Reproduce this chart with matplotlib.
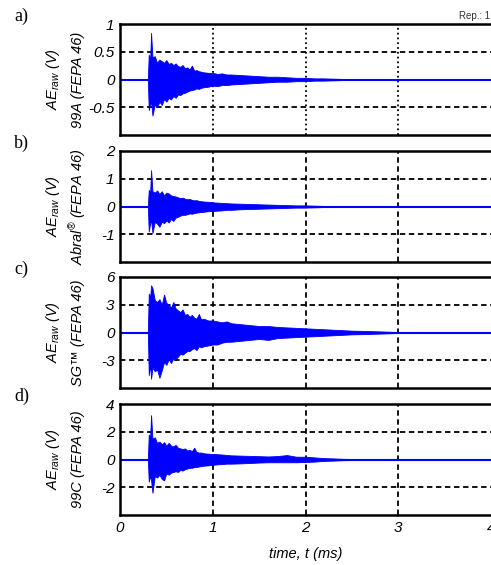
import matplotlib
matplotlib.use('Agg')
import matplotlib.pyplot as plt

plt.rcParams['font.family'] = ['Liberation Sans', 'DejaVu Sans']
plt.rcParams['font.style'] = 'italic'
plt.rcParams['mathtext.fontset'] = 'custom'
plt.rcParams['mathtext.it'] = 'Liberation Sans:italic'
plt.rcParams['mathtext.rm'] = 'Liberation Sans:italic'

# sample times of the signal envelope (ms)
t_ms = [0.30, 0.31, 0.325, 0.335, 0.35, 0.375, 0.40, 0.425, 0.45, 0.475,
        0.50, 0.525, 0.55, 0.575, 0.60, 0.625, 0.65, 0.675, 0.70, 0.725,
        0.75, 0.775, 0.80, 0.825, 0.85, 0.875, 0.90, 0.95, 1.00, 1.05,
        1.10, 1.15, 1.20, 1.30, 1.40, 1.50, 1.60, 1.70, 1.80, 1.90,
        2.00, 2.10, 2.20, 2.30, 2.40, 2.50, 2.60, 2.80, 3.00]

# 99A (FEPA 46)
a_up = [0, 0.45, 0.35, 0.84, 0.40, 0.42, 0.30, 0.36, 0.33, 0.30,
        0.35, 0.28, 0.30, 0.26, 0.29, 0.24, 0.23, 0.26, 0.20, 0.22,
        0.18, 0.25, 0.16, 0.17, 0.15, 0.14, 0.13, 0.12, 0.12, 0.10,
        0.11, 0.09, 0.09, 0.08, 0.07, 0.06, 0.05, 0.05, 0.04, 0.03,
        0.03, 0.02, 0.02, 0.015, 0.01, 0.01, 0.005, 0, 0]
a_lo = [0, -0.55, -0.45, -0.40, -0.65, -0.45, -0.50, -0.40, -0.46, -0.35,
        -0.40, -0.33, -0.36, -0.30, -0.33, -0.27, -0.28, -0.25, -0.24, -0.22,
        -0.20, -0.19, -0.18, -0.16, -0.17, -0.15, -0.14, -0.13, -0.11, -0.12,
        -0.10, -0.10, -0.09, -0.08, -0.07, -0.06, -0.05, -0.04, -0.04, -0.03,
        -0.03, -0.02, -0.02, -0.015, -0.01, -0.01, -0.005, 0, 0]

# Abral (FEPA 46)
b_up = [0, 0.60, 0.50, 1.31, 0.55, 0.50, 0.58, 0.45, 0.55, 0.40,
        0.50, 0.47, 0.40, 0.38, 0.36, 0.33, 0.30, 0.32, 0.28, 0.26,
        0.27, 0.24, 0.22, 0.23, 0.20, 0.19, 0.18, 0.17, 0.15, 0.14,
        0.13, 0.12, 0.11, 0.10, 0.09, 0.08, 0.07, 0.06, 0.05, 0.04,
        0.04, 0.03, 0.02, 0.02, 0.01, 0.01, 0, 0, 0]
b_lo = [0, -0.90, -0.60, -0.50, -0.95, -0.55, -0.62, -0.73, -0.55, -0.60,
        -0.50, -0.58, -0.45, -0.52, -0.40, -0.37, -0.33, -0.30, -0.30, -0.28,
        -0.25, -0.26, -0.24, -0.22, -0.21, -0.20, -0.19, -0.17, -0.16, -0.15,
        -0.14, -0.12, -0.12, -0.10, -0.09, -0.08, -0.07, -0.06, -0.05, -0.04,
        -0.04, -0.03, -0.02, -0.02, -0.01, -0.01, 0, 0, 0]

# SG (FEPA 46)
c_up = [0, 4.2, 3.8, 5.1, 4.8, 3.5, 3.3, 3.6, 3.0, 4.1,
        3.2, 3.0, 2.7, 3.3, 2.6, 2.4, 2.2, 2.5, 1.9, 2.0,
        1.7, 1.9, 1.6, 1.5, 2.0, 1.4, 1.5, 1.3, 1.3, 1.2,
        1.1, 1.2, 1.0, 0.9, 0.8, 0.7, 0.7, 0.6, 0.55, 0.5,
        0.45, 0.4, 0.35, 0.3, 0.25, 0.2, 0.18, 0.12, 0.05]
c_lo = [0, -4.6, -3.5, -5.0, -3.8, -4.2, -4.0, -4.9, -4.1, -3.2,
        -3.5, -2.9, -3.3, -2.8, -2.9, -2.6, -2.3, -2.4, -2.2, -2.0,
        -2.0, -1.8, -1.7, -1.9, -1.5, -1.6, -1.5, -1.4, -1.3, -1.3,
        -1.1, -1.0, -1.0, -0.9, -0.8, -0.7, -0.8, -0.6, -0.55, -0.5,
        -0.45, -0.4, -0.35, -0.3, -0.25, -0.2, -0.18, -0.12, -0.05]

# 99C (FEPA 46)
d_up = [0, 1.8, 1.6, 3.2, 1.5, 1.6, 1.2, 1.3, 1.1, 1.25,
        1.0, 1.2, 1.0, 0.95, 1.05, 0.85, 0.8, 0.75, 0.8, 0.65,
        0.7, 0.6, 0.85, 0.55, 0.5, 0.5, 0.45, 0.42, 0.4, 0.38,
        0.36, 0.33, 0.3, 0.28, 0.26, 0.24, 0.22, 0.25, 0.32, 0.2,
        0.2, 0.15, 0.1, 0.08, 0.05, 0.04, 0.02, 0, 0]
d_lo = [0, -1.6, -1.2, -1.5, -2.4, -1.2, -1.3, -1.1, -1.4, -1.5,
        -1.0, -1.1, -0.95, -0.9, -0.85, -0.9, -0.75, -0.8, -0.7, -0.65,
        -0.6, -0.6, -0.55, -0.55, -0.5, -0.48, -0.45, -0.42, -0.38, -0.35,
        -0.33, -0.3, -0.3, -0.28, -0.25, -0.22, -0.2, -0.2, -0.2, -0.2,
        -0.18, -0.15, -0.1, -0.08, -0.05, -0.04, -0.02, 0, 0]

panels = [
    ('a)', '99A (FEPA 46)', a_up, a_lo, 1, [-0.5, 0, 0.5, 1], ['-0.5', '0', '0.5', '1'], ':'),
    ('b)', r'Abral$^{\circledR}$ (FEPA 46)', b_up, b_lo, 2, [-1, 0, 1, 2], ['-1', '0', '1', '2'], '--'),
    ('c)', 'SG\u2122 (FEPA 46)', c_up, c_lo, 6, [-3, 0, 3, 6], ['-3', '0', '3', '6'], '--'),
    ('d)', '99C (FEPA 46)', d_up, d_lo, 4, [-2, 0, 2, 4], ['-2', '0', '2', '4'], '--'),
]

W, H = 491, 565
fig = plt.figure(figsize=(W / 100, H / 100), dpi=100)
tops = [24, 151, 277, 404]
ax_h = 111

for i, (tag, material, up, lo, lim, yt, ytl, vstyle) in enumerate(panels):
    top = tops[i]
    ax = fig.add_axes([120 / W, (H - top - ax_h) / H, (W - 120) / W, ax_h / H])
    ax.set_xlim(0, 4)
    ax.set_ylim(-lim, lim)

    # grid behind the signal
    for y in yt[:-1]:
        if y != 0:
            ax.axhline(y, color='k', lw=1.3, ls=(0, (3, 2)), zorder=1)
    for x in [1, 2, 3]:
        ax.axvline(x, color='k', lw=1.3, ls=vstyle if vstyle == ':' else (0, (3, 2)), zorder=1)

    ax.plot([0, 4], [0, 0], color='b', lw=1.5, zorder=2)
    ax.fill_between(t_ms, lo, up, color='b', lw=0.6, zorder=3)

    ax.set_yticks(yt)
    ax.set_yticklabels(ytl)
    ax.set_xticks([0, 1, 2, 3, 4])
    if i < 3:
        ax.set_xticklabels([])
    ax.tick_params(length=0, labelsize=11, pad=4)
    for lab in ax.get_xticklabels() + ax.get_yticklabels():
        lab.set_fontstyle('italic')

    ax.spines['right'].set_visible(False)
    for s in ['top', 'left', 'bottom']:
        ax.spines[s].set_linewidth(1.8)

    yc = 1 - (top + ax_h / 2) / H
    fig.text(53 / W, yc, r'$AE_{raw}$ (V)', rotation=90, ha='center', va='center', fontsize=10.5)
    fig.text(78 / W, yc, material, rotation=90, ha='center', va='center', fontsize=10.5)
    fig.text(14 / W, 1 - (top - 8) / H, tag, ha='left', va='center', fontsize=13,
             family='Liberation Serif', style='normal')

fig.text(306 / W, 1 - 554 / H, 'time, t (ms)', ha='center', va='center', fontsize=10.5)
fig.text(459 / W, 1 - 16 / H, 'Rep.: 1', ha='left', va='center', fontsize=7,
         style='normal', color='#333333')

fig.savefig('out.png', dpi=100)
